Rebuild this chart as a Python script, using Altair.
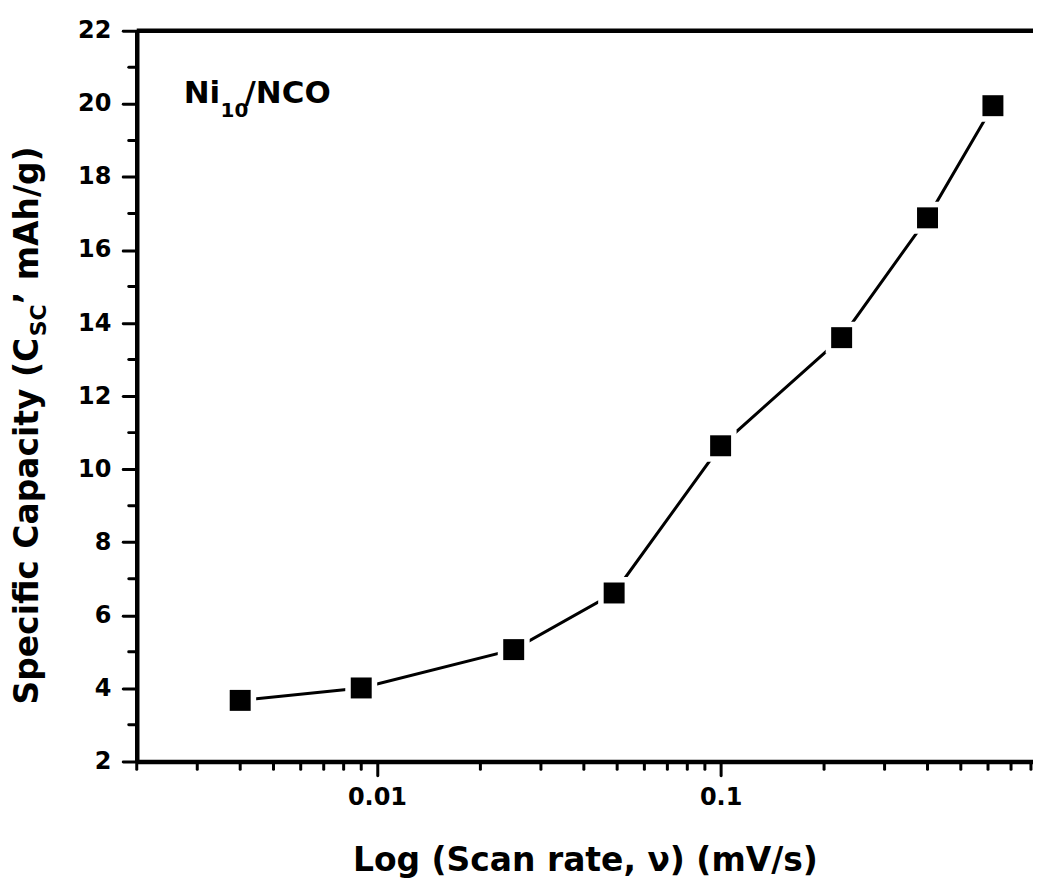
import altair as alt
import pandas as pd

# ---- data ----
scan_rate = [0.004, 0.009, 0.025, 0.049, 0.1, 0.225, 0.4, 0.62]
capacity = [3.67, 4.01, 5.06, 6.61, 10.64, 13.60, 16.88, 19.95]

x_major = [0.01, 0.1]
x_minor = [0.002, 0.003, 0.004, 0.005, 0.006, 0.007, 0.008, 0.009,
           0.02, 0.03, 0.04, 0.05, 0.06, 0.07, 0.08, 0.09,
           0.2, 0.3, 0.4, 0.5, 0.6, 0.7, 0.8]
y_major = [2, 4, 6, 8, 10, 12, 14, 16, 18, 20, 22]
y_minor = [3, 5, 7, 9, 11, 13, 15, 17, 19, 21]

x_title = "Log (Scan rate, ν) (mV/s)"
y_title_parts = ["Specific Capacity (C", "SC", "’ mAh/g)"]
label_parts = ["Ni", "10", "/NCO"]

W, H = 898, 732
FONT = "DejaVu Sans"

df = pd.DataFrame({"rate": scan_rate, "cap": capacity})
xscale = alt.Scale(type="log", domain=[0.002, 0.811], nice=False)
yscale = alt.Scale(domain=[2, 22], nice=False, zero=False)

xaxis = alt.Axis(values=x_major, format="~g", title=x_title,
                 labelPadding=10, titlePadding=35, labelFlush=False)
yaxis = alt.Axis(values=y_major, title=None, labelPadding=12)

base = alt.Chart(df)

line = base.mark_line(color="black", strokeWidth=3).encode(
    x=alt.X("rate:Q", scale=xscale, axis=xaxis),
    y=alt.Y("cap:Q", scale=yscale, axis=yaxis),
)
halo = base.mark_square(color="white", size=1024, opacity=1).encode(
    x=alt.X("rate:Q", scale=xscale, axis=xaxis),
    y=alt.Y("cap:Q", scale=yscale, axis=yaxis))
pts = base.mark_square(color="black", size=441, opacity=1).encode(
    x=alt.X("rate:Q", scale=xscale, axis=xaxis),
    y=alt.Y("cap:Q", scale=yscale, axis=yaxis))

xmin = alt.Chart(pd.DataFrame({"rate": x_minor})).mark_rule(
    color="black", strokeWidth=3, strokeCap="round").encode(
    x=alt.X("rate:Q", scale=xscale, axis=xaxis),
    y=alt.value(H), y2=alt.value(H + 8))
ymin = alt.Chart(pd.DataFrame({"cap": y_minor})).mark_rule(
    color="black", strokeWidth=3, strokeCap="round").encode(
    y=alt.Y("cap:Q", scale=yscale, axis=yaxis),
    x=alt.value(-8), x2=alt.value(0))

top = alt.Chart(pd.DataFrame({"v": [0]})).mark_rule(
    color="black", strokeWidth=4.5).encode(
    x=alt.value(0), x2=alt.value(W), y=alt.value(0))


def txt(s, x, y, size, angle=0):
    return alt.Chart(pd.DataFrame({"t": [s]})).mark_text(
        font=FONT, fontSize=size, fontWeight="bold", color="black",
        align="left", baseline="alphabetic", angle=angle).encode(
        text="t:N", x=alt.value(x), y=alt.value(y))


ni = txt(label_parts[0], 47, 72, 31)
ni_sub = txt(label_parts[1], 84, 86, 20)
ni_rest = txt(label_parts[2], 108, 72, 31)

yt1 = txt(y_title_parts[0], -99, 675, 33, 270)
yt2 = txt(y_title_parts[1], -91, 306, 22, 270)
yt3 = txt(y_title_parts[2], -99, 274, 33, 270)

chart = alt.layer(line, xmin, ymin, top, halo, pts, ni, ni_sub, ni_rest,
                  yt1, yt2, yt3).properties(
    width=W, height=H,
    autosize=alt.AutoSizeParams(type="none"),
    padding={"left": 129, "top": 22, "right": 0, "bottom": 120},
).configure_view(stroke=None).configure_axis(
    grid=False,
    domainColor="black", domainWidth=4.5,
    tickColor="black", tickWidth=3, tickSize=14, tickCap="round",
    labelFont=FONT, labelFontSize=24, labelFontWeight="bold", labelColor="black",
    titleFont=FONT, titleFontSize=33, titleFontWeight="bold", titleColor="black",
)

chart.save("out.html", embed_options={"renderer": "svg", "actions": False})
